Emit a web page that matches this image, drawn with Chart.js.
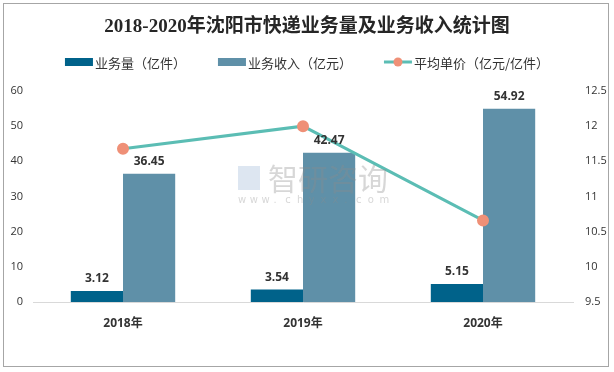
<!DOCTYPE html>
<html>
<head>
<meta charset="utf-8">
<script src="https://cdn.jsdelivr.net/npm/chart.js@4"></script>
<style>
  body { margin: 0; background: #fff; }
  #wrap { position: relative; width: 614px; height: 372px; }
  #frame { position: absolute; left: 3px; top: 3px; width: 604px; height: 362px; border: 1px solid #a6a6a6; pointer-events: none; }
</style>
</head>
<body>
<div id="wrap">
  <canvas id="chart" width="614" height="372"></canvas>
  <div id="frame"></div>
</div>
<script>
// data
const years = ['2018年', '2019年', '2020年'];
const volume = [3.12, 3.54, 5.15];      // 业务量（亿件）
const revenue = [36.45, 42.47, 54.92];  // 业务收入（亿元）
const unitPrice = [11.68, 12.0, 10.66]; // 平均单价（亿元/亿件）

const darkBlue = '#00628a';
const greyBlue = '#5f90a8';
const teal = '#5bbdb4';
const salmon = '#ef9077';
const cjk = '"Noto Sans CJK SC", "Microsoft YaHei", sans-serif';

// Title, legend and watermark drawn by hand
const decorations = {
  id: 'decorations',
  beforeDraw(chart) {
    const c = chart.ctx;
    c.save();
    c.fillStyle = '#fff';
    c.fillRect(0, 0, chart.width, chart.height);
    c.fillStyle = '#262626';
    c.font = 'bold 19px "Liberation Serif", ' + cjk;
    c.textAlign = 'center';
    c.textBaseline = 'middle';
    c.fillText('2018-2020年沈阳市快递业务量及业务收入统计图', 307, 27);

    // legend
    const items = [
      { text: '业务量（亿件）', type: 'box', color: darkBlue },
      { text: '业务收入（亿元）', type: 'box', color: greyBlue },
      { text: '平均单价（亿元/亿件）', type: 'line' }
    ];
    c.font = '13px ' + cjk;
    c.textAlign = 'left';
    const boxW = 28, gap = 2, spacing = 32;
    let total = 0;
    items.forEach((it, i) => {
      it.w = c.measureText(it.text).width;
      total += boxW + gap + it.w + (i ? spacing : 0);
    });
    let x = 307 - total / 2;
    const y = 62;
    items.forEach(it => {
      if (it.type === 'box') {
        c.fillStyle = it.color;
        c.fillRect(x, y - 4, boxW, 8);
      } else {
        c.strokeStyle = teal;
        c.lineWidth = 3;
        c.beginPath();
        c.moveTo(x, y);
        c.lineTo(x + boxW, y);
        c.stroke();
        c.fillStyle = salmon;
        c.beginPath();
        c.arc(x + boxW / 2, y, 4.5, 0, Math.PI * 2);
        c.fill();
      }
      c.fillStyle = '#333';
      c.fillText(it.text, x + boxW + gap, y + 1);
      x += boxW + gap + it.w + spacing;
    });
    c.restore();
  },
  afterDatasetsDraw(chart) {
    const c = chart.ctx;
    c.save();
    // value labels above the bars
    c.font = 'bold 12px "Open Sans", sans-serif';
    c.fillStyle = '#333';
    c.textAlign = 'center';
    c.textBaseline = 'middle';
    [1, 2].forEach(di => {
      chart.getDatasetMeta(di).data.forEach((bar, i) => {
        c.fillText(chart.data.datasets[di].data[i].toFixed(2), bar.x, bar.y - 12);
      });
    });
    // watermark
    c.globalAlpha = 0.35;
    c.fillStyle = '#8c8c8c';
    c.font = '30px ' + cjk;
    c.textAlign = 'left';
    c.fillText('智研咨询', 268, 179);
    c.fillStyle = '#9fb6d6';
    c.fillRect(238, 166, 22, 24);
    c.font = '10px "DejaVu Sans", sans-serif';
    c.fillStyle = '#8c8c8c';
    const url = 'www.chyxx.com';
    for (let i = 0; i < url.length; i++) {
      c.fillText(url[i], 238 + i * 11.8, 200);
    }
    c.restore();
  }
};

const tickFont = { size: 11, family: '"Open Sans", sans-serif' };

new Chart(document.getElementById('chart'), {
  data: {
    labels: years,
    datasets: [
      {
        type: 'line',
        label: '平均单价（亿元/亿件）',
        data: unitPrice,
        yAxisID: 'y1',
        borderColor: teal,
        borderWidth: 3,
        pointBackgroundColor: salmon,
        pointBorderColor: salmon,
        pointRadius: 4.5,
        tension: 0,
        order: 0
      },
      {
        type: 'bar',
        label: '业务量（亿件）',
        data: volume,
        yAxisID: 'y',
        backgroundColor: darkBlue,
        categoryPercentage: 0.58,
        barPercentage: 1,
        order: 1
      },
      {
        type: 'bar',
        label: '业务收入（亿元）',
        data: revenue,
        yAxisID: 'y',
        backgroundColor: greyBlue,
        categoryPercentage: 0.58,
        barPercentage: 1,
        order: 1
      }
    ]
  },
  options: {
    responsive: false,
    animation: false,
    layout: { padding: { top: 91, bottom: 0, left: 0, right: 0 } },
    plugins: {
      legend: { display: false },
      title: { display: false },
      tooltip: { enabled: false }
    },
    scales: {
      x: {
        grid: { display: false, drawTicks: false },
        border: { display: true, color: '#d9d9d9', width: 1 },
        ticks: { padding: 14, color: '#333', font: { size: 12, weight: 'bold', family: '"Open Sans", ' + cjk } },
        afterFit(scale) { scale.height = 70; }
      },
      y: {
        position: 'left',
        min: 0, max: 60,
        grid: { display: false, drawTicks: false },
        border: { display: false },
        ticks: { stepSize: 10, padding: 10, color: '#333', font: tickFont },
        afterFit(scale) { scale.width = 33; }
      },
      y1: {
        position: 'right',
        min: 9.5, max: 12.5,
        grid: { display: false, drawTicks: false },
        border: { display: false },
        ticks: { stepSize: 0.5, padding: 12, color: '#333', font: tickFont, callback: v => String(v) },
        afterFit(scale) { scale.width = 41; }
      }
    }
  },
  plugins: [decorations]
});
</script>
</body>
</html>
